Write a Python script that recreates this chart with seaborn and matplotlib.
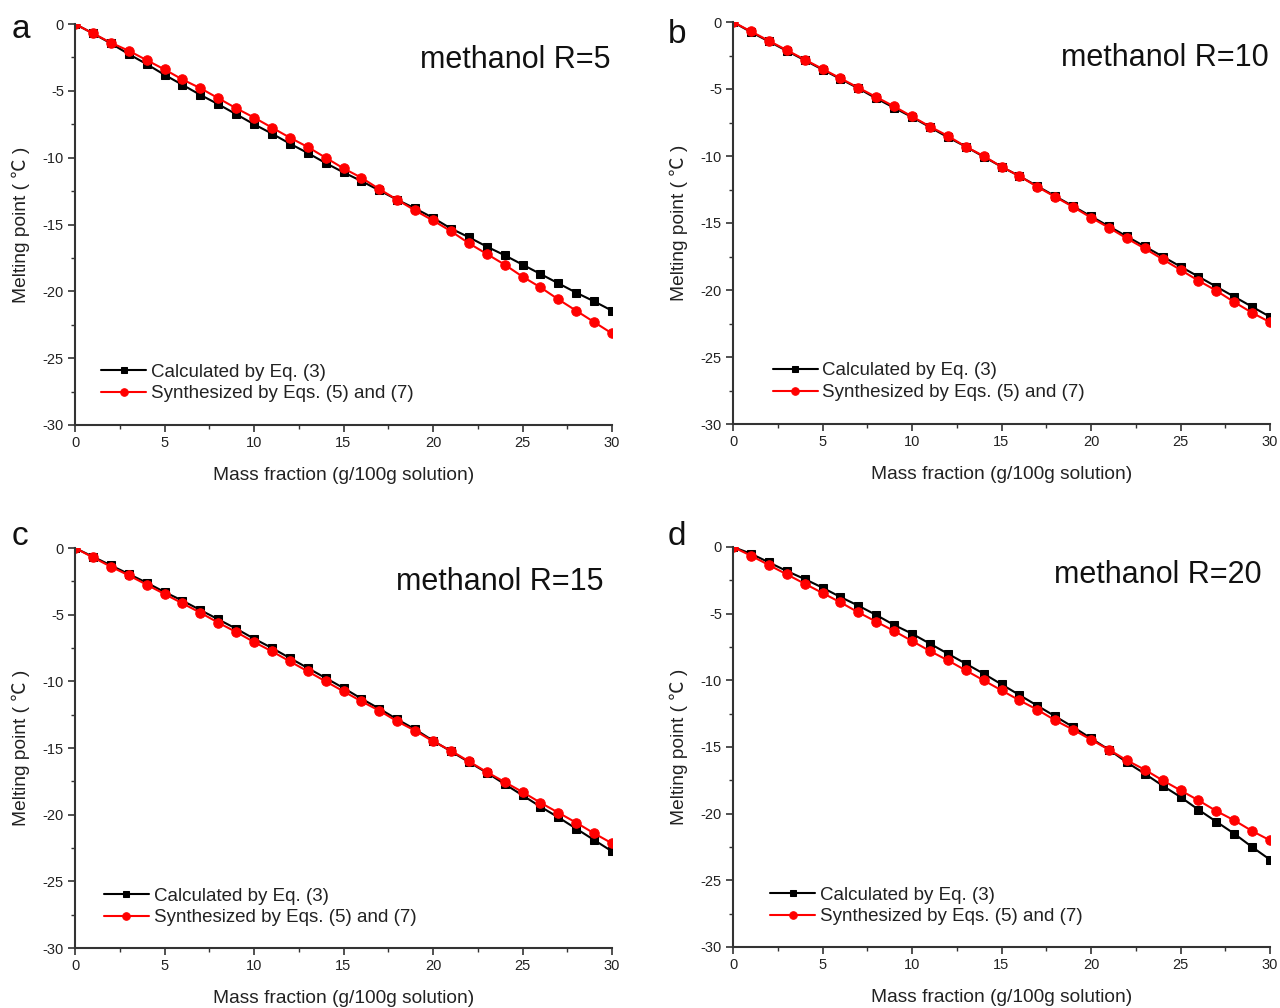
import numpy as np
import pandas as pd
import matplotlib
matplotlib.use("Agg")
import matplotlib.pyplot as plt
from matplotlib.ticker import MultipleLocator
import seaborn as sns

mass_fraction = list(range(0, 31))

calc_R5 = [0, -0.7, -1.45, -2.25, -3.0, -3.8, -4.55, -5.3, -6.0, -6.75, -7.5, -8.2, -8.95,
           -9.65, -10.4, -11.1, -11.75, -12.45, -13.15, -13.8, -14.5, -15.3, -15.95, -16.65,
           -17.3, -18.0, -18.7, -19.4, -20.1, -20.75, -21.45]
syn_R5 = [0, -0.7, -1.4, -2.0, -2.7, -3.4, -4.15, -4.8, -5.55, -6.3, -7.0, -7.75, -8.5,
          -9.2, -10.0, -10.8, -11.5, -12.35, -13.15, -13.95, -14.7, -15.5, -16.4, -17.2,
          -18.0, -18.9, -19.7, -20.6, -21.45, -22.3, -23.15]

calc_R10 = [0, -0.75, -1.45, -2.15, -2.85, -3.55, -4.25, -4.95, -5.7, -6.4, -7.1, -7.85, -8.6,
            -9.3, -10.05, -10.8, -11.5, -12.25, -13.0, -13.75, -14.5, -15.25, -16.0, -16.75,
            -17.5, -18.25, -19.0, -19.75, -20.5, -21.25, -22.0]
syn_R10 = [0, -0.7, -1.4, -2.1, -2.8, -3.5, -4.2, -4.9, -5.6, -6.3, -7.05, -7.8, -8.5,
           -9.3, -10.0, -10.8, -11.5, -12.3, -13.05, -13.8, -14.6, -15.35, -16.15, -16.9,
           -17.7, -18.5, -19.3, -20.05, -20.9, -21.7, -22.4]

calc_R15 = [0, -0.65, -1.3, -1.95, -2.6, -3.3, -3.95, -4.65, -5.35, -6.05, -6.8, -7.5, -8.25,
            -9.0, -9.75, -10.5, -11.3, -12.05, -12.85, -13.6, -14.45, -15.25, -16.05, -16.85,
            -17.7, -18.55, -19.4, -20.2, -21.05, -21.9, -22.75]
syn_R15 = [0, -0.7, -1.4, -2.05, -2.75, -3.45, -4.15, -4.85, -5.6, -6.3, -7.05, -7.75, -8.5,
           -9.25, -10.0, -10.75, -11.5, -12.2, -13.0, -13.7, -14.5, -15.2, -16.0, -16.8,
           -17.55, -18.3, -19.1, -19.85, -20.6, -21.4, -22.15]

calc_R20 = [0, -0.5, -1.15, -1.8, -2.4, -3.05, -3.75, -4.4, -5.1, -5.85, -6.5, -7.25, -8.0,
            -8.75, -9.5, -10.3, -11.1, -11.9, -12.7, -13.5, -14.35, -15.2, -16.15, -17.0,
            -17.9, -18.75, -19.7, -20.6, -21.5, -22.5, -23.45]
syn_R20 = [0, -0.65, -1.35, -2.05, -2.75, -3.45, -4.15, -4.9, -5.6, -6.3, -7.05, -7.8, -8.5,
           -9.25, -10.0, -10.75, -11.5, -12.2, -13.0, -13.7, -14.45, -15.2, -16.0, -16.7,
           -17.5, -18.25, -19.0, -19.8, -20.5, -21.3, -22.0]

panel_letters = ["a", "b", "c", "d"]
panel_titles = ["methanol R=5", "methanol R=10", "methanol R=15", "methanol R=20"]
calc_series = [calc_R5, calc_R10, calc_R15, calc_R20]
syn_series = [syn_R5, syn_R10, syn_R15, syn_R20]
label_calc = "Calculated by Eq. (3)"
label_syn = "Synthesized by Eqs. (5) and (7)"
x_label = "Mass fraction (g/100g solution)"
y_label = "Melting point ( ℃ )"
x_ticks = [0, 5, 10, 15, 20, 25, 30]
y_ticks = [0, -5, -10, -15, -20, -25, -30]

sns.set_style("ticks")
plt.rcParams["font.family"] = ["Liberation Sans", "DejaVu Sans"]

fig = plt.figure(figsize=(12.8, 10.08), dpi=100)

W, H = 1280, 1008
# axes pixel boxes: left, right, top, bottom
boxes = [(75, 612, 24, 425), (733, 1270, 22, 424), (75, 612, 548, 948), (733, 1270, 547, 947)]
title_pos = [(0.997, 0.91), (0.997, 0.91), (0.985, 0.915), (0.985, 0.93)]
legend_anchor = [(0.035, 0.172), (0.06, 0.172), (0.04, 0.17), (0.055, 0.17)]
letter_pos = [(12, 38), (668, 43), (12, 545), (668, 545)]
axis_col = "#333333"

for i in range(4):
    l, r, t, b = boxes[i]
    ax = fig.add_axes([l / W, 1 - b / H, (r - l) / W, (b - t) / H])
    df = pd.DataFrame({"x": mass_fraction, "calc": calc_series[i], "syn": syn_series[i]})
    sns.lineplot(data=df, x="x", y="calc", ax=ax, color="black", marker="s", markersize=5.5,
                 markeredgecolor="black", linewidth=1.5, label=label_calc)
    sns.lineplot(data=df, x="x", y="syn", ax=ax, color="#ff0000", marker="o", markersize=6.8,
                 markeredgecolor="#ff0000", linewidth=1.5, label=label_syn)
    ax.set_xlim(0, 30)
    ax.set_ylim(-30, 0)
    ax.set_xticks(x_ticks)
    ax.set_yticks(y_ticks)
    ax.set_xticklabels([str(v) for v in x_ticks])
    ax.set_yticklabels([str(v) for v in y_ticks])
    ax.xaxis.set_minor_locator(MultipleLocator(2.5))
    ax.yaxis.set_minor_locator(MultipleLocator(2.5))
    ax.tick_params(which="major", direction="out", length=5, width=1.2, color=axis_col,
                   labelsize=10.5, labelcolor="#222222", pad=3)
    ax.tick_params(which="minor", direction="out", length=3, width=1.0, color=axis_col)
    for s in ["top", "right"]:
        ax.spines[s].set_visible(False)
    for s in ["left", "bottom"]:
        ax.spines[s].set_color(axis_col)
        ax.spines[s].set_linewidth(1.5)
    ax.set_xlabel(x_label, fontsize=13.8, color="#222222", labelpad=12)
    ax.set_ylabel(y_label, fontsize=13.8, color="#222222", labelpad=9,
                  family=["Liberation Sans", "Noto Sans CJK SC", "DejaVu Sans"])
    ax.text(title_pos[i][0], title_pos[i][1], panel_titles[i], transform=ax.transAxes,
            ha="right", va="center", fontsize=22, color="#111111")
    leg = ax.legend(loc="upper left", bbox_to_anchor=legend_anchor[i], frameon=False,
                    fontsize=13.5, handlelength=2.4, handletextpad=0.25, labelspacing=0.25,
                    borderaxespad=0, markerscale=0.8)
    for txt in leg.get_texts():
        txt.set_color("#222222")
    lx, ly = letter_pos[i]
    fig.text(lx / W, 1 - ly / H, panel_letters[i], fontsize=24, ha="left", va="baseline",
             color="#111111")

fig.savefig("out.png", dpi=100, facecolor="white")
